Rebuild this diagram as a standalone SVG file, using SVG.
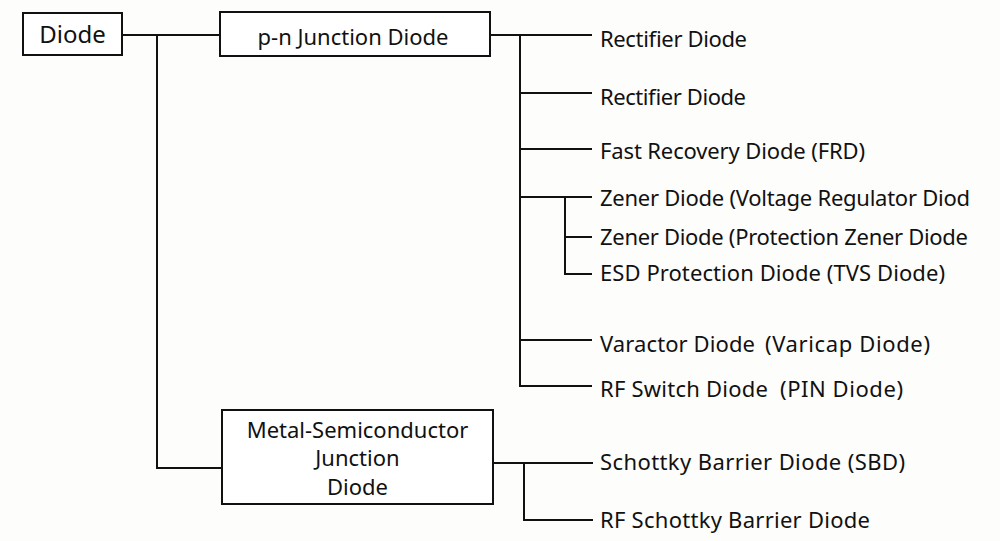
<svg xmlns="http://www.w3.org/2000/svg" width="1000" height="541" viewBox="0 0 1000 541">
<style>
.box{fill:#fff;stroke:#111;stroke-width:2}
.ln{fill:none;stroke:#111;stroke-width:2}
text{font-family:"Noto Sans","Open Sans","DejaVu Sans",sans-serif;fill:#111}
.leaf{font-size:22px}
.mid{text-anchor:middle}
</style>
<rect width="1000" height="541" fill="#fdfdfc"/>
<g id="connectors" class="ln">
<path d="M122 35H220M157 35V468H222"/>
<path d="M490 35H592M520 35V386H592M520 93H592M520 149H592M520 197H592M520 340H592"/>
<path d="M565 197V274H592M565 237H592"/>
<path d="M494 463H593M524 463V520H593"/>
</g>
<g id="diode"><rect class="box" x="23" y="13" width="99" height="42"/><text x="72.5" y="43" class="mid" font-size="24">Diode</text></g>
<g id="pn"><rect class="box" x="220" y="12" width="270" height="44"/><text x="353" y="45" class="mid" font-size="22">p-n Junction Diode</text></g>
<g id="msj"><rect class="box" x="222" y="410" width="271" height="94"/><text class="mid" font-size="22"><tspan x="357.5" y="438">Metal-Semiconductor</tspan><tspan x="357.5" y="466">Junction</tspan><tspan x="357.5" y="495">Diode</tspan></text></g>
<g id="rect1"><text class="leaf" x="600" y="47" textLength="147">Rectifier Diode</text></g>
<g id="rect2"><text class="leaf" x="600" y="105" textLength="146">Rectifier Diode</text></g>
<g id="frd"><text class="leaf" x="600" y="159" textLength="265">Fast Recovery Diode (FRD)</text></g>
<g id="zener1"><text class="leaf" x="600" y="206" textLength="370">Zener Diode (Voltage Regulator Diod</text></g>
<g id="zener2"><text class="leaf" x="600" y="245" textLength="368">Zener Diode (Protection Zener Diode</text></g>
<g id="esd"><text class="leaf" x="600" y="281" textLength="345">ESD Protection Diode (TVS Diode)</text></g>
<g id="varactor"><text class="leaf" y="352"><tspan x="600" textLength="155">Varactor Diode</tspan><tspan x="765" textLength="165">(Varicap Diode)</tspan></text></g>
<g id="pin"><text class="leaf" y="397"><tspan x="600" textLength="168">RF Switch Diode</tspan><tspan x="780" textLength="123">(PIN Diode)</tspan></text></g>
<g id="sbd"><text class="leaf" x="600" y="470" textLength="305">Schottky Barrier Diode (SBD)</text></g>
<g id="rfsbd"><text class="leaf" x="600" y="528" textLength="270">RF Schottky Barrier Diode</text></g>
</svg>
